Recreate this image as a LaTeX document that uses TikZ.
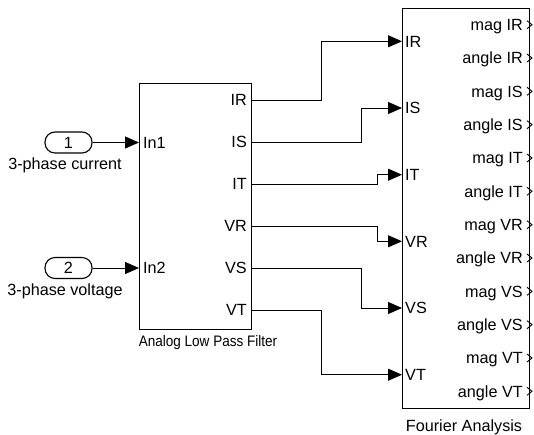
\documentclass[tikz,border=0pt]{standalone}
\usepackage{graphicx}
\usepackage{fontspec}
\setmainfont{Liberation Sans}
\usetikzlibrary{arrows.meta}
\begin{document}
\begin{tikzpicture}[x=1pt,y=-1pt,
  blk/.style={draw, line width=1.3pt, inner sep=0pt, anchor=north west},
  lbl/.style={font=\fontsize{16.2}{19}\selectfont, inner sep=0pt},
  wire/.style={line width=1pt, -{Triangle[length=14pt,width=12pt]}},
  inport/.style={draw, line width=1.1pt, rounded corners=10pt, minimum width=47pt, minimum height=21pt, inner sep=0pt, font=\fontsize{16.2}{19}\selectfont},
  chev/.style={line width=0.9pt}
]
\useasboundingbox (0,0) rectangle (534,434);

% blocks
\node[blk, minimum width=112pt, minimum height=246pt] (lpf) at (139,83) {};
\node[blk, minimum width=127pt, minimum height=400pt] (fa) at (402,8) {};

% block captions
\node[lbl, anchor=base, font=\fontsize{15.2}{18}\selectfont] (lpfcap) at (208,346) {\scalebox{0.89}[1]{Analog Low Pass Filter}};
\node[lbl, anchor=base] (facap) at (464,431) {Fourier Analysis};

% inports
\node[inport] (p1) at (68.5,142.5) {1};
\node[inport] (p2) at (68.5,268) {2};
\node[lbl, anchor=base] (p1cap) at (65,169) {3-phase current};
\node[lbl, anchor=base] (p2cap) at (65,295) {3-phase voltage};

% LPF ports
\coordinate (lpfIn1) at (139,142.5);
\coordinate (lpfIn2) at (139,268);
\node[lbl, anchor=base west] (tIn1) at (143,148.3) {In1};
\node[lbl, anchor=base west] (tIn2) at (143,273.8) {In2};

\foreach \n/\y in {IR/100,IS/142,IT/184,VR/226,VS/268,VT/310}{
  \coordinate (lpf\n) at (251,\y);
  \node[lbl, anchor=base east] (tl\n) at (247,\y+5.8) {\n};
}

% Fourier ports
\foreach \n/\y in {IR/41.3,IS/108,IT/174.7,VR/241.3,VS/308,VT/374.7}{
  \coordinate (fa\n) at (402,\y);
  \node[lbl, anchor=base west] (tf\n) at (405,\y+5.8) {\n};
}
\foreach \t/\y [count=\i] in {mag IR/24.7,angle IR/58,mag IS/91.3,angle IS/124.7,mag IT/158,angle IT/191.3,mag VR/224.7,angle VR/258,mag VS/291.3,angle VS/324.7,mag VT/358,angle VT/391.3}{
  \coordinate (fo\i) at (529,\y);
  \node[lbl, anchor=base east] (to\i) at (523,\y+5.8) {\t};
  \draw[chev] ([shift={(-2,-4)}]fo\i) -- ([shift={(3,0)}]fo\i) -- ([shift={(-2,4)}]fo\i);
}

% connectors
\draw[wire] (p1) -- (lpfIn1);
\draw[wire] (p2) -- (lpfIn2);
\draw[wire] (lpfIR) -- ++(70,0) |- (faIR);
\draw[wire] (lpfIS) -- ++(110,0) |- (faIS);
\draw[wire] (lpfIT) -- ++(126,0) |- (faIT);
\draw[wire] (lpfVR) -- ++(126,0) |- (faVR);
\draw[wire] (lpfVS) -- ++(110,0) |- (faVS);
\draw[wire] (lpfVT) -- ++(70,0) |- (faVT);
\end{tikzpicture}
\end{document}
